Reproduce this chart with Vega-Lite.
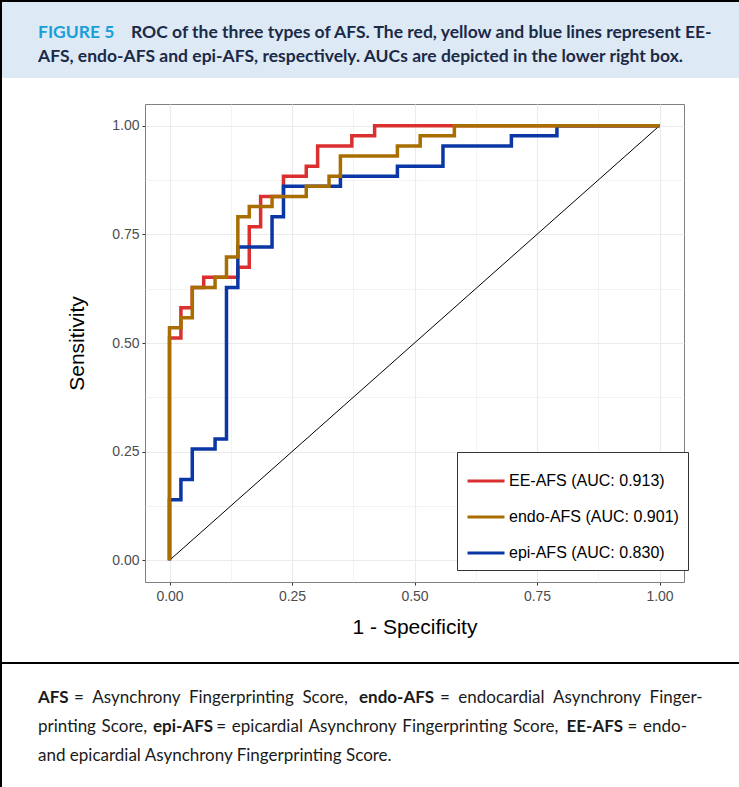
{
  "$schema": "https://vega.github.io/schema/vega-lite/v6.json",
  "width": 539,
  "height": 478,
  "autosize": {"type": "none"},
  "padding": {"left": 145, "top": 104, "right": 55, "bottom": 205},
  "background": "#ffffff",
  "config": {
    "font": "Liberation Sans",
    "view": {"stroke": "#808080", "strokeWidth": 1},
    "axis": {"domain": false, "tickColor": "#333333", "tickSize": 3, "labelColor": "#4d4d4d", "labelFontSize": 14, "titleFontSize": 21, "titleFontWeight": "normal", "titleColor": "#000000", "gridColor": "#ebebeb", "labelOverlap": false, "labelFlush": false},
    "axisX": {"labelPadding": 4, "titlePadding": 13},
    "axisY": {"labelPadding": 3, "titlePadding": 24}
  },
  "datasets": {
    "roc": [
      {"curve": "EE-AFS (AUC: 0.913)", "o": 0, "fpr": 0, "tpr": 0},
      {"curve": "EE-AFS (AUC: 0.913)", "o": 1, "fpr": 0, "tpr": 0.5116},
      {"curve": "EE-AFS (AUC: 0.913)", "o": 2, "fpr": 0.0233, "tpr": 0.5814},
      {"curve": "EE-AFS (AUC: 0.913)", "o": 3, "fpr": 0.0465, "tpr": 0.6279},
      {"curve": "EE-AFS (AUC: 0.913)", "o": 4, "fpr": 0.0698, "tpr": 0.6512},
      {"curve": "EE-AFS (AUC: 0.913)", "o": 5, "fpr": 0.1395, "tpr": 0.6744},
      {"curve": "EE-AFS (AUC: 0.913)", "o": 6, "fpr": 0.1628, "tpr": 0.7674},
      {"curve": "EE-AFS (AUC: 0.913)", "o": 7, "fpr": 0.186, "tpr": 0.8372},
      {"curve": "EE-AFS (AUC: 0.913)", "o": 8, "fpr": 0.2326, "tpr": 0.8837},
      {"curve": "EE-AFS (AUC: 0.913)", "o": 9, "fpr": 0.2791, "tpr": 0.907},
      {"curve": "EE-AFS (AUC: 0.913)", "o": 10, "fpr": 0.3023, "tpr": 0.9535},
      {"curve": "EE-AFS (AUC: 0.913)", "o": 11, "fpr": 0.3721, "tpr": 0.9767},
      {"curve": "EE-AFS (AUC: 0.913)", "o": 12, "fpr": 0.4186, "tpr": 1},
      {"curve": "EE-AFS (AUC: 0.913)", "o": 13, "fpr": 1, "tpr": 1},
      {"curve": "endo-AFS (AUC: 0.901)", "o": 0, "fpr": 0, "tpr": 0},
      {"curve": "endo-AFS (AUC: 0.901)", "o": 1, "fpr": 0, "tpr": 0.5349},
      {"curve": "endo-AFS (AUC: 0.901)", "o": 2, "fpr": 0.0233, "tpr": 0.5581},
      {"curve": "endo-AFS (AUC: 0.901)", "o": 3, "fpr": 0.0465, "tpr": 0.6279},
      {"curve": "endo-AFS (AUC: 0.901)", "o": 4, "fpr": 0.093, "tpr": 0.6512},
      {"curve": "endo-AFS (AUC: 0.901)", "o": 5, "fpr": 0.1163, "tpr": 0.6977},
      {"curve": "endo-AFS (AUC: 0.901)", "o": 6, "fpr": 0.1395, "tpr": 0.7907},
      {"curve": "endo-AFS (AUC: 0.901)", "o": 7, "fpr": 0.1628, "tpr": 0.814},
      {"curve": "endo-AFS (AUC: 0.901)", "o": 8, "fpr": 0.2093, "tpr": 0.8372},
      {"curve": "endo-AFS (AUC: 0.901)", "o": 9, "fpr": 0.2791, "tpr": 0.8605},
      {"curve": "endo-AFS (AUC: 0.901)", "o": 10, "fpr": 0.3256, "tpr": 0.8837},
      {"curve": "endo-AFS (AUC: 0.901)", "o": 11, "fpr": 0.3488, "tpr": 0.9302},
      {"curve": "endo-AFS (AUC: 0.901)", "o": 12, "fpr": 0.4651, "tpr": 0.9535},
      {"curve": "endo-AFS (AUC: 0.901)", "o": 13, "fpr": 0.5116, "tpr": 0.9767},
      {"curve": "endo-AFS (AUC: 0.901)", "o": 14, "fpr": 0.5814, "tpr": 1},
      {"curve": "endo-AFS (AUC: 0.901)", "o": 15, "fpr": 1, "tpr": 1},
      {"curve": "epi-AFS (AUC: 0.830)", "o": 0, "fpr": 0, "tpr": 0},
      {"curve": "epi-AFS (AUC: 0.830)", "o": 1, "fpr": 0, "tpr": 0.1395},
      {"curve": "epi-AFS (AUC: 0.830)", "o": 2, "fpr": 0.0233, "tpr": 0.186},
      {"curve": "epi-AFS (AUC: 0.830)", "o": 3, "fpr": 0.0465, "tpr": 0.2558},
      {"curve": "epi-AFS (AUC: 0.830)", "o": 4, "fpr": 0.093, "tpr": 0.2791},
      {"curve": "epi-AFS (AUC: 0.830)", "o": 5, "fpr": 0.1163, "tpr": 0.6279},
      {"curve": "epi-AFS (AUC: 0.830)", "o": 6, "fpr": 0.1395, "tpr": 0.7209},
      {"curve": "epi-AFS (AUC: 0.830)", "o": 7, "fpr": 0.2093, "tpr": 0.7907},
      {"curve": "epi-AFS (AUC: 0.830)", "o": 8, "fpr": 0.2326, "tpr": 0.8605},
      {"curve": "epi-AFS (AUC: 0.830)", "o": 9, "fpr": 0.3488, "tpr": 0.8837},
      {"curve": "epi-AFS (AUC: 0.830)", "o": 10, "fpr": 0.4651, "tpr": 0.907},
      {"curve": "epi-AFS (AUC: 0.830)", "o": 11, "fpr": 0.5581, "tpr": 0.9535},
      {"curve": "epi-AFS (AUC: 0.830)", "o": 12, "fpr": 0.6977, "tpr": 0.9767},
      {"curve": "epi-AFS (AUC: 0.830)", "o": 13, "fpr": 0.7907, "tpr": 1},
      {"curve": "epi-AFS (AUC: 0.830)", "o": 14, "fpr": 1, "tpr": 1}
    ],
    "diag": [{"fpr": 0, "tpr": 0}, {"fpr": 1, "tpr": 1}]
  },
  "layer": [
    {"data": {"values": [{}]}, "mark": {"type": "rect", "fill": "#dde9f5"}, "encoding": {"x": {"value": -143}, "x2": {"value": 594}, "y": {"value": -102}, "y2": {"value": -26}}},
    {"data": {"values": [{}]}, "mark": {"type": "rule", "color": "#000000", "strokeWidth": 2}, "encoding": {"x": {"value": -144}, "x2": {"value": -144}, "y": {"value": -104}, "y2": {"value": 683}}},
    {"data": {"values": [{}]}, "mark": {"type": "rule", "color": "#000000", "strokeWidth": 2}, "encoding": {"x": {"value": -145}, "x2": {"value": 594}, "y": {"value": -103}, "y2": {"value": -103}}},
    {"data": {"values": [{}]}, "mark": {"type": "rule", "color": "#000000", "strokeWidth": 2}, "encoding": {"x": {"value": -145}, "x2": {"value": 594}, "y": {"value": 559}, "y2": {"value": 559}}},
    {"data": {"values": [{}]}, "mark": {"type": "text", "align": "left", "baseline": "middle", "font": "Lato", "fontSize": 17.5, "fontWeight": "bold", "color": "#1a9fdb", "letterSpacing": 1.3}, "encoding": {"x": {"value": -107}, "y": {"value": -71}, "text": {"value": "FIGURE 5"}}},
    {"data": {"values": [{}]}, "mark": {"type": "text", "align": "left", "baseline": "middle", "font": "Lato", "fontSize": 17.5, "fontWeight": "bold", "color": "#1b2a47"}, "encoding": {"x": {"value": -14}, "y": {"value": -71}, "text": {"value": "ROC of the three types of AFS. The red, yellow and blue lines represent EE-"}}},
    {"data": {"values": [{}]}, "mark": {"type": "text", "align": "left", "baseline": "middle", "font": "Lato", "fontSize": 17.5, "fontWeight": "bold", "color": "#1b2a47"}, "encoding": {"x": {"value": -107}, "y": {"value": -47}, "text": {"value": "AFS, endo-AFS and epi-AFS, respectively. AUCs are depicted in the lower right box."}}},
    {"data": {"values": [{}]}, "mark": {"type": "text", "align": "left", "baseline": "middle", "font": "Lato", "fontSize": 17, "fontWeight": "bold", "color": "#1a1a1a"}, "encoding": {"x": {"value": -107}, "y": {"value": 594}, "text": {"value": "AFS"}}},
    {"data": {"values": [{}]}, "mark": {"type": "text", "align": "left", "baseline": "middle", "font": "Lato", "fontSize": 17, "color": "#1a1a1a"}, "encoding": {"x": {"value": -71}, "y": {"value": 594}, "text": {"value": "=\u2002Asynchrony\u2002Fingerprinting\u2002Score,"}}},
    {"data": {"values": [{}]}, "mark": {"type": "text", "align": "left", "baseline": "middle", "font": "Lato", "fontSize": 17, "fontWeight": "bold", "color": "#1a1a1a"}, "encoding": {"x": {"value": 214}, "y": {"value": 594}, "text": {"value": "endo-AFS"}}},
    {"data": {"values": [{}]}, "mark": {"type": "text", "align": "left", "baseline": "middle", "font": "Lato", "fontSize": 17, "color": "#1a1a1a"}, "encoding": {"x": {"value": 295}, "y": {"value": 594}, "text": {"value": "=\u2002endocardial\u2002Asynchrony\u2002Finger-"}}},
    {"data": {"values": [{}]}, "mark": {"type": "text", "align": "left", "baseline": "middle", "font": "Lato", "fontSize": 17, "color": "#1a1a1a"}, "encoding": {"x": {"value": -107}, "y": {"value": 623}, "text": {"value": "printing\u2004Score,"}}},
    {"data": {"values": [{}]}, "mark": {"type": "text", "align": "left", "baseline": "middle", "font": "Lato", "fontSize": 17, "fontWeight": "bold", "color": "#1a1a1a"}, "encoding": {"x": {"value": 8}, "y": {"value": 623}, "text": {"value": "epi-AFS"}}},
    {"data": {"values": [{}]}, "mark": {"type": "text", "align": "left", "baseline": "middle", "font": "Lato", "fontSize": 17, "color": "#1a1a1a"}, "encoding": {"x": {"value": 71.3}, "y": {"value": 623}, "text": {"value": "=\u2004epicardial\u2004Asynchrony\u2004Fingerprinting\u2004Score,"}}},
    {"data": {"values": [{}]}, "mark": {"type": "text", "align": "left", "baseline": "middle", "font": "Lato", "fontSize": 17, "fontWeight": "bold", "color": "#1a1a1a"}, "encoding": {"x": {"value": 421.5}, "y": {"value": 623}, "text": {"value": "EE-AFS"}}},
    {"data": {"values": [{}]}, "mark": {"type": "text", "align": "left", "baseline": "middle", "font": "Lato", "fontSize": 17, "color": "#1a1a1a"}, "encoding": {"x": {"value": 482.5}, "y": {"value": 623}, "text": {"value": "=\u2004endo-"}}},
    {"data": {"values": [{}]}, "mark": {"type": "text", "align": "left", "baseline": "middle", "font": "Lato", "fontSize": 17, "color": "#1a1a1a"}, "encoding": {"x": {"value": -107}, "y": {"value": 652}, "text": {"value": "and epicardial Asynchrony Fingerprinting Score."}}},
    {
      "data": {"name": "diag"},
      "mark": {"type": "line", "color": "#000000", "strokeWidth": 1},
      "encoding": {
        "x": {"field": "fpr", "type": "quantitative", "title": "1 - Specificity", "scale": {"domain": [-0.05, 1.05], "nice": false, "zero": false},
          "axis": {"values": [0, 0.125, 0.25, 0.375, 0.5, 0.625, 0.75, 0.875, 1], "labelExpr": "(datum.value*4)%1==0 ? format(datum.value,'.2f') : ''", "tickOpacity": {"condition": {"test": "(datum.value*4)%1!=0", "value": 0}, "value": 1}, "gridWidth": {"condition": {"test": "(datum.value*4)%1!=0", "value": 0.6}, "value": 1.1}}},
        "y": {"field": "tpr", "type": "quantitative", "title": "Sensitivity", "scale": {"domain": [-0.05, 1.05], "nice": false, "zero": false},
          "axis": {"values": [0, 0.125, 0.25, 0.375, 0.5, 0.625, 0.75, 0.875, 1], "labelExpr": "(datum.value*4)%1==0 ? format(datum.value,'.2f') : ''", "tickOpacity": {"condition": {"test": "(datum.value*4)%1!=0", "value": 0}, "value": 1}, "gridWidth": {"condition": {"test": "(datum.value*4)%1!=0", "value": 0.6}, "value": 1.1}}}
      }
    },
    {
      "data": {"name": "roc"},
      "transform": [{"filter": "datum.curve == 'EE-AFS (AUC: 0.913)'"}],
      "mark": {"type": "line", "interpolate": "step-after", "strokeWidth": 3.5},
      "encoding": {
        "x": {"field": "fpr", "type": "quantitative", "title": "1 - Specificity"},
        "y": {"field": "tpr", "type": "quantitative", "title": "Sensitivity"},
        "order": {"field": "o", "type": "quantitative"},
        "color": {"field": "curve", "type": "nominal", "scale": {"domain": ["EE-AFS (AUC: 0.913)", "endo-AFS (AUC: 0.901)", "epi-AFS (AUC: 0.830)"], "range": ["#dc2f2f", "#a86e00", "#0a37a5"]},
          "legend": {"title": null, "orient": "none", "legendX": 312, "legendY": 348, "strokeColor": "#333333", "fillColor": "#ffffff", "padding": 9, "symbolType": "stroke", "symbolSize": 1369, "symbolStrokeWidth": 3, "labelFontSize": 16, "labelColor": "#000000", "labelOffset": 3, "rowPadding": 8, "labelLimit": 300}}
      }
    },
    {
      "data": {"name": "roc"},
      "transform": [{"filter": "datum.curve == 'epi-AFS (AUC: 0.830)'"}],
      "mark": {"type": "line", "interpolate": "step-after", "strokeWidth": 3.5},
      "encoding": {
        "x": {"field": "fpr", "type": "quantitative", "title": "1 - Specificity"},
        "y": {"field": "tpr", "type": "quantitative", "title": "Sensitivity"},
        "order": {"field": "o", "type": "quantitative"},
        "color": {"field": "curve", "type": "nominal"}
      }
    },
    {
      "data": {"name": "roc"},
      "transform": [{"filter": "datum.curve == 'endo-AFS (AUC: 0.901)'"}],
      "mark": {"type": "line", "interpolate": "step-after", "strokeWidth": 3.5},
      "encoding": {
        "x": {"field": "fpr", "type": "quantitative", "title": "1 - Specificity"},
        "y": {"field": "tpr", "type": "quantitative", "title": "Sensitivity"},
        "order": {"field": "o", "type": "quantitative"},
        "color": {"field": "curve", "type": "nominal"}
      }
    }
  ]
}
